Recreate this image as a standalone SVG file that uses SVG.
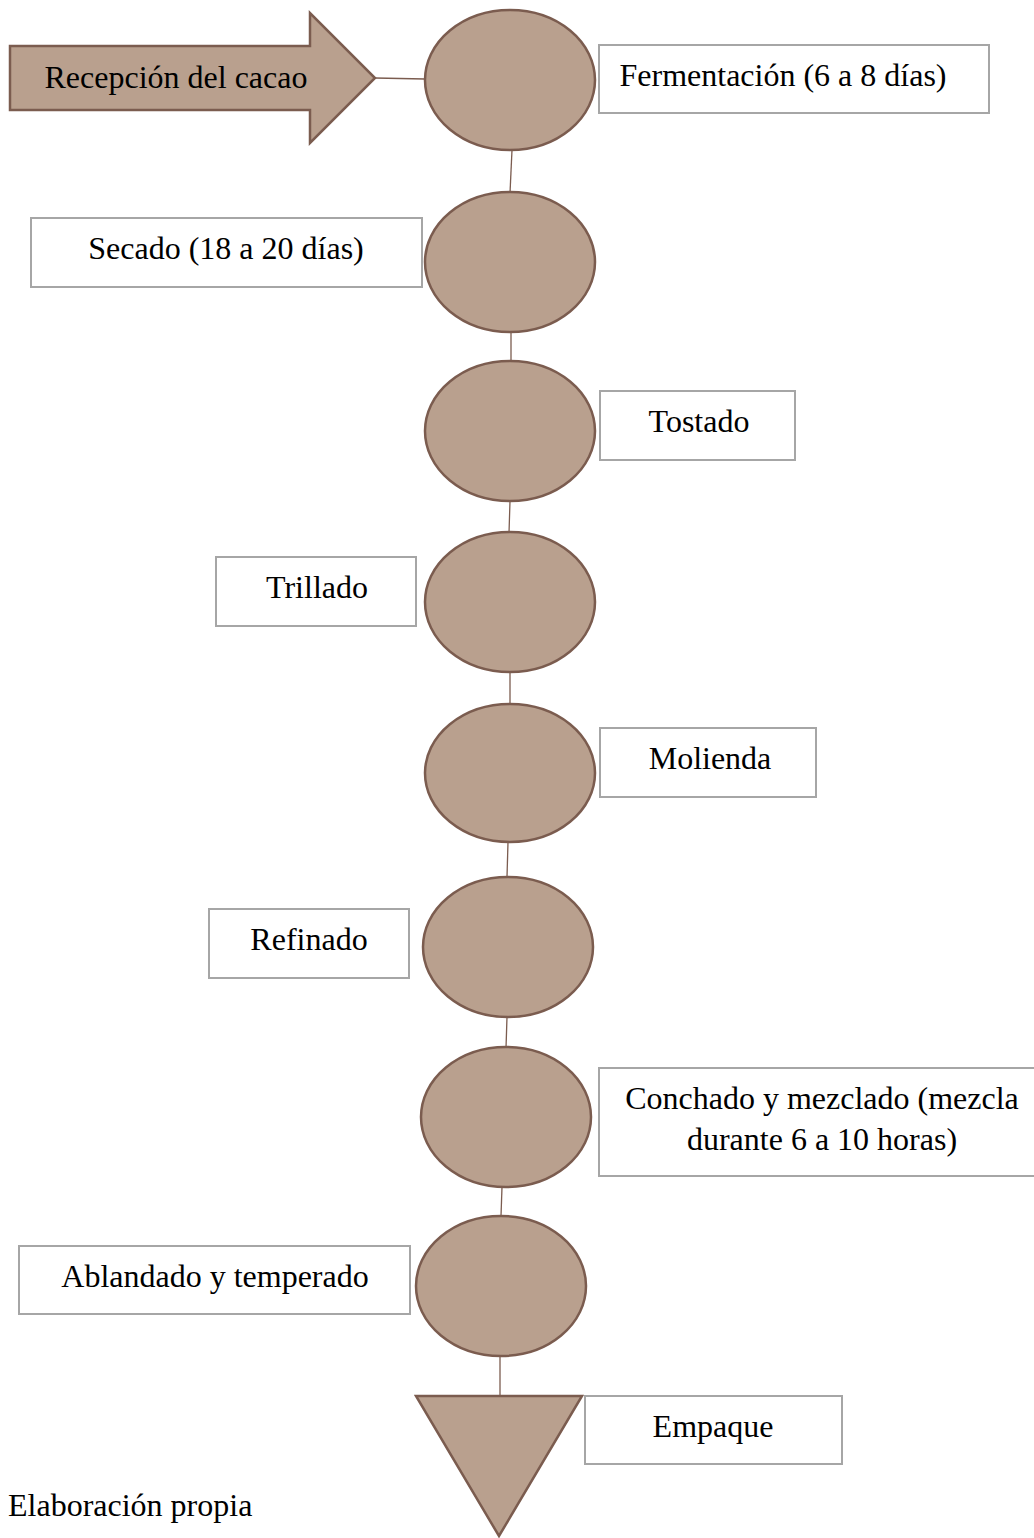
<svg xmlns="http://www.w3.org/2000/svg" width="1034" height="1538" viewBox="0 0 1034 1538">
  <style>
    .shape { fill: #b9a08e; stroke: #7b5c4f; stroke-width: 2.5; }
    .box { fill: #ffffff; stroke: #a6a6a6; stroke-width: 2; }
    .link { stroke: #7b5c4f; stroke-width: 1.3; fill: none; }
    text { font-family: "Liberation Serif", "Times New Roman", serif; font-size: 32px; fill: #000000; }
    .c { text-anchor: middle; }
  </style>
  <rect width="1034" height="1538" fill="#ffffff"/>

  <!-- connectors -->
  <g id="connectors">
    <line class="link" x1="375" y1="78" x2="425" y2="79"/>
    <line class="link" x1="512" y1="150" x2="510" y2="193"/>
    <line class="link" x1="511" y1="332" x2="511" y2="362"/>
    <line class="link" x1="510" y1="501" x2="509" y2="533"/>
    <line class="link" x1="510" y1="672" x2="510" y2="704"/>
    <line class="link" x1="508" y1="842" x2="507" y2="877"/>
    <line class="link" x1="507" y1="1017" x2="506" y2="1048"/>
    <line class="link" x1="502" y1="1187" x2="501" y2="1216"/>
    <line class="link" x1="500" y1="1356" x2="500" y2="1396"/>
  </g>

  <!-- start arrow -->
  <g id="recepcion">
    <polygon class="shape" points="10,46 310,46 310,13 375,78 310,143 310,110 10,110"/>
    <text class="c" x="176" y="88">Recepción del cacao</text>
  </g>

  <!-- process steps -->
  <g id="fermentacion">
    <ellipse class="shape" cx="510" cy="80" rx="85" ry="70"/>
    <rect class="box" x="599" y="45" width="390" height="68"/>
    <text class="c" x="783" y="86">Fermentación (6 a 8 días)</text>
  </g>

  <g id="secado">
    <ellipse class="shape" cx="510" cy="262" rx="85" ry="70"/>
    <rect class="box" x="31" y="218" width="391" height="69"/>
    <text class="c" x="226" y="259">Secado (18 a 20 días)</text>
  </g>

  <g id="tostado">
    <ellipse class="shape" cx="510" cy="431" rx="85" ry="70"/>
    <rect class="box" x="600" y="391" width="195" height="69"/>
    <text class="c" x="699" y="432">Tostado</text>
  </g>

  <g id="trillado">
    <ellipse class="shape" cx="510" cy="602" rx="85" ry="70"/>
    <rect class="box" x="216" y="557" width="200" height="69"/>
    <text class="c" x="317" y="598">Trillado</text>
  </g>

  <g id="molienda">
    <ellipse class="shape" cx="510" cy="773" rx="85" ry="69"/>
    <rect class="box" x="600" y="728" width="216" height="69"/>
    <text class="c" x="710" y="769">Molienda</text>
  </g>

  <g id="refinado">
    <ellipse class="shape" cx="508" cy="947" rx="85" ry="70"/>
    <rect class="box" x="209" y="909" width="200" height="69"/>
    <text class="c" x="309" y="950">Refinado</text>
  </g>

  <g id="conchado">
    <ellipse class="shape" cx="506" cy="1117" rx="85" ry="70"/>
    <rect class="box" x="599" y="1068" width="440" height="108"/>
    <text class="c" x="822" y="1109">Conchado y mezclado (mezcla</text>
    <text class="c" x="822" y="1150">durante 6 a 10 horas)</text>
  </g>

  <g id="ablandado">
    <ellipse class="shape" cx="501" cy="1286" rx="85" ry="70"/>
    <rect class="box" x="19" y="1246" width="391" height="68"/>
    <text class="c" x="215" y="1287">Ablandado y temperado</text>
  </g>

  <g id="empaque">
    <polygon class="shape" points="416,1396 582,1396 499,1536"/>
    <rect class="box" x="585" y="1396" width="257" height="68"/>
    <text class="c" x="713" y="1437">Empaque</text>
  </g>

  <text x="8" y="1516">Elaboración propia</text>
</svg>
